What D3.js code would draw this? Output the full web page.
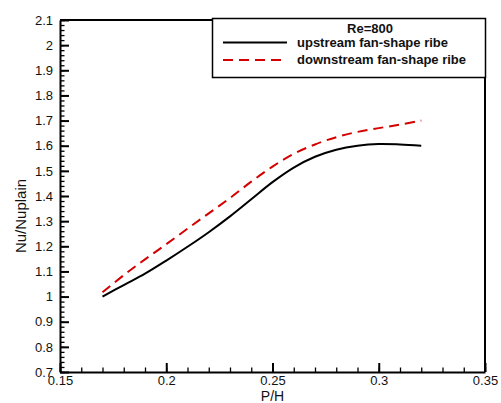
<!DOCTYPE html>
<html>
<head>
<meta charset="utf-8" />
<title>Nu/Nuplain vs P/H</title>
<script src="https://d3js.org/d3.v7.min.js"></script>
<style>
  body { margin: 0; background: #fff; }
  .axis text { font-family: "Liberation Sans", Arial, sans-serif; font-size: 13px; fill: #111; }
  .axis path { stroke: #000; stroke-width: 2; }
  .axis line { stroke: #000; stroke-width: 2; }
  .minor line { stroke-width: 1.3; }
  .minor path { display: none; }
  .title { font-family: "Liberation Sans", Arial, sans-serif; font-size: 15px; fill: #111; }
  .legend text { font-family: "Liberation Sans", Arial, sans-serif; font-size: 13px; font-weight: bold; fill: #111; }
</style>
</head>
<body>
<div id="chart"></div>
<script>
// data
var ph = [0.17, 0.18, 0.19, 0.20, 0.21, 0.22, 0.23, 0.24, 0.25, 0.26, 0.27, 0.28, 0.29, 0.30, 0.31, 0.32];
var upstream = [1.000, 1.046, 1.091, 1.143, 1.198, 1.256, 1.319, 1.387, 1.455, 1.513, 1.556, 1.584, 1.600, 1.607, 1.605, 1.600];
var downstream = [1.017, 1.085, 1.148, 1.208, 1.270, 1.331, 1.392, 1.457, 1.517, 1.568, 1.605, 1.634, 1.655, 1.670, 1.684, 1.700];
var seriesNames = ["upstream fan-shape ribe", "downstream fan-shape ribe"];
var legendTitle = "Re=800";
var xMajor = [0.15, 0.2, 0.25, 0.3, 0.35];
var yMajor = [0.7, 0.8, 0.9, 1, 1.1, 1.2, 1.3, 1.4, 1.5, 1.6, 1.7, 1.8, 1.9, 2, 2.1];

var W = 501, H = 403;
var margin = { top: 20, right: 16, bottom: 31, left: 60 };
var width = W - margin.left - margin.right,
    height = H - margin.top - margin.bottom;

var svg = d3.select("#chart").append("svg")
  .attr("width", W)
  .attr("height", H);

var g = svg.append("g")
  .attr("transform", "translate(" + margin.left + "," + margin.top + ")");

var x = d3.scaleLinear().domain([0.15, 0.35]).range([0, width]);
var y = d3.scaleLinear().domain([0.7, 2.1]).range([height, 0]);

// minor ticks
var xMinor = d3.range(15, 36).map(function (d) { return d / 100; });
var yMinor = d3.range(35, 106).map(function (d) { return d / 50; });

g.append("g")
  .attr("class", "axis minor")
  .attr("transform", "translate(0," + height + ")")
  .call(d3.axisBottom(x).tickValues(xMinor).tickSize(-4.5).tickFormat(""));
g.append("g")
  .attr("class", "axis minor")
  .call(d3.axisLeft(y).tickValues(yMinor).tickSize(-4.5).tickFormat(""));

// frame top / right
g.append("line").attr("x1", 0).attr("x2", width).attr("y1", 0).attr("y2", 0)
  .attr("stroke", "#000").attr("stroke-width", 2);
g.append("line").attr("x1", width).attr("x2", width).attr("y1", 0).attr("y2", height)
  .attr("stroke", "#000").attr("stroke-width", 2);

// major axes
g.append("g")
  .attr("class", "axis")
  .attr("transform", "translate(0," + height + ")")
  .call(d3.axisBottom(x).tickValues(xMajor).tickSizeInner(-9).tickSizeOuter(0).tickPadding(4)
    .tickFormat(function (d) { return String(d); }));
g.append("g")
  .attr("class", "axis")
  .call(d3.axisLeft(y).tickValues(yMajor).tickSizeInner(-9).tickSizeOuter(0).tickPadding(7)
    .tickFormat(function (d) { return String(d); }));

// lines
var line = d3.line()
  .x(function (d) { return x(d[0]); })
  .y(function (d) { return y(d[1]); })
  .curve(d3.curveCatmullRom);

g.append("path")
  .datum(d3.zip(ph, upstream))
  .attr("fill", "none")
  .attr("stroke", "#000")
  .attr("stroke-width", 2)
  .attr("d", line);

g.append("path")
  .datum(d3.zip(ph, downstream))
  .attr("fill", "none")
  .attr("stroke", "#d40000")
  .attr("stroke-width", 2)
  .attr("stroke-dasharray", "10,6")
  .attr("d", line);

// axis titles
svg.append("text")
  .attr("class", "title")
  .attr("x", margin.left + x(0.25))
  .attr("y", 401)
  .attr("text-anchor", "middle")
  .style("font-size", "14px")
  .text("P/H");

svg.append("text")
  .attr("class", "title")
  .attr("transform", "translate(26," + (margin.top + height / 2 + 20) + ") rotate(-90)")
  .attr("text-anchor", "middle")
  .text("Nu/Nuplain");

// legend
var lg = svg.append("g").attr("class", "legend");
lg.append("rect")
  .attr("x", 212.5).attr("y", 18.5)
  .attr("width", 273).attr("height", 59)
  .attr("fill", "#fff")
  .attr("stroke", "#000")
  .attr("stroke-width", 1.5);
lg.append("text")
  .attr("x", 370).attr("y", 33)
  .attr("text-anchor", "middle")
  .text(legendTitle);
var styles = [
  { color: "#000", dash: null },
  { color: "#d40000", dash: "10,6" }
];
seriesNames.forEach(function (name, i) {
  var yy = 42.5 + i * 17.5;
  lg.append("line")
    .attr("x1", 223).attr("x2", 287)
    .attr("y1", yy).attr("y2", yy)
    .attr("stroke", styles[i].color)
    .attr("stroke-width", 2)
    .attr("stroke-dasharray", styles[i].dash);
  lg.append("text")
    .attr("x", 297).attr("y", yy + 4)
    .text(name);
});
</script>
</body>
</html>
